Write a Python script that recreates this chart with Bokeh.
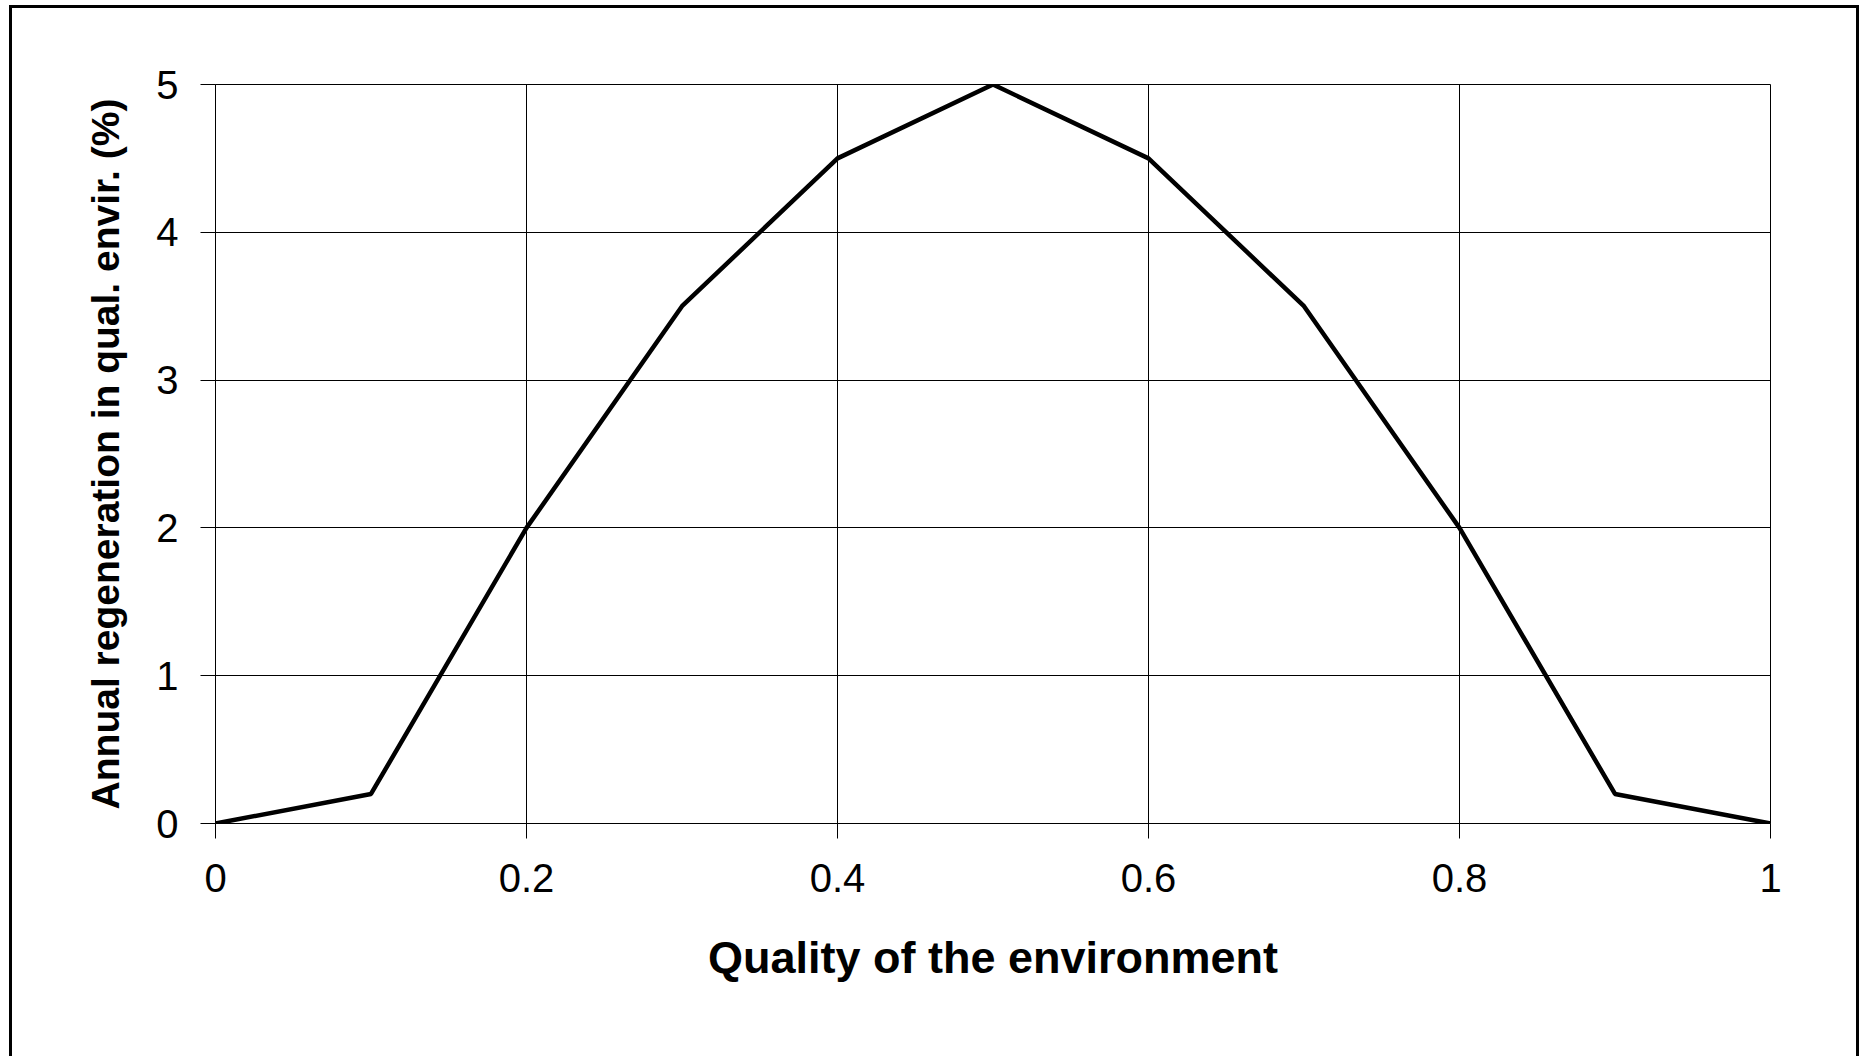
from bokeh.plotting import figure
from bokeh.models import Range1d, FixedTicker
from bokeh.embed import file_html
from bokeh.resources import INLINE

quality = [0.0, 0.1, 0.2, 0.3, 0.4, 0.5, 0.6, 0.7, 0.8, 0.9, 1.0]
regeneration = [0.0, 0.2, 2.0, 3.5, 4.5, 5.0, 4.5, 3.5, 2.0, 0.2, 0.0]
x_ticks = [0, 0.2, 0.4, 0.6, 0.8, 1]
x_tick_labels = {0: "0", 0.2: "0.2", 0.4: "0.4", 0.6: "0.6", 0.8: "0.8", 1: "1"}
y_ticks = [0, 1, 2, 3, 4, 5]

p = figure(width=1850, height=1051, output_backend="svg", toolbar_location=None,
           x_range=Range1d(0, 1), y_range=Range1d(0, 5),
           min_border_left=203, min_border_right=92, min_border_top=76, min_border_bottom=236)
p.background_fill_color = "white"
p.border_fill_color = "white"
p.outline_line_color = "black"
p.outline_line_width = 1
p.margin = (5, 0, 0, 9)
p.styles = {"border-top": "3px solid black", "border-left": "3px solid black",
            "border-right": "3px solid black"}

p.line(quality, regeneration, line_color="black", line_width=4.5)

FONT = "Liberation Sans"
for ax in (p.xaxis[0], p.yaxis[0]):
    ax.axis_line_color = "black"
    ax.axis_line_width = 1
    ax.major_tick_line_color = "black"
    ax.major_tick_in = 0
    ax.major_tick_out = 15
    ax.minor_tick_line_color = None
    ax.major_label_text_font = FONT
    ax.major_label_text_font_size = "40px"
    ax.major_label_text_color = "black"
    ax.axis_label_text_font = FONT
    ax.axis_label_text_font_style = "bold"
    ax.axis_label_text_color = "black"

p.xaxis[0].ticker = FixedTicker(ticks=x_ticks)
p.xaxis[0].major_label_overrides = x_tick_labels
p.yaxis[0].ticker = FixedTicker(ticks=y_ticks)
p.xaxis[0].axis_label = "Quality of the environment"
p.yaxis[0].axis_label = "Annual regeneration in qual. envir. (%)"
p.xaxis[0].axis_label_text_font_size = "45px"
p.yaxis[0].axis_label_text_font_size = "39px"
p.xaxis[0].major_label_standoff = 25
p.yaxis[0].major_label_standoff = 22
p.xaxis[0].axis_label_standoff = 37
p.yaxis[0].axis_label_standoff = 26

for g in (p.xgrid[0], p.ygrid[0]):
    g.grid_line_color = "black"
    g.grid_line_width = 1
p.xgrid[0].ticker = FixedTicker(ticks=x_ticks)
p.ygrid[0].ticker = FixedTicker(ticks=y_ticks)

open("out.html", "w").write(file_html(p, INLINE))
